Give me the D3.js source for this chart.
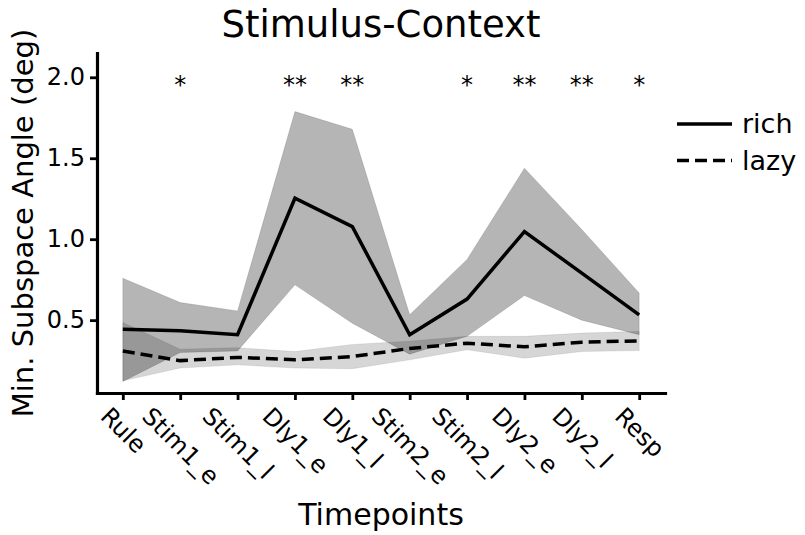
<!DOCTYPE html>
<html>
<head>
<meta charset="utf-8">
<script src="https://cdn.jsdelivr.net/npm/d3@7"></script>
<style>
  body { margin: 0; background: #fff; }
  text { font-family: 'DejaVu Sans', sans-serif; fill: #000; }
</style>
</head>
<body>
<div id="app"></div>
<script>
'use strict'

const timepoints = ['Rule', 'Stim1_e', 'Stim1_l', 'Dly1_e', 'Dly1_l', 'Stim2_e', 'Stim2_l', 'Dly2_e', 'Dly2_l', 'Resp']

const richMean  = [0.444, 0.434, 0.41, 1.253, 1.078, 0.41, 0.63, 1.047, 0.79, 0.533]
const richUpper = [0.759, 0.609, 0.557, 1.788, 1.679, 0.533, 0.875, 1.438, 1.06, 0.667]
const richLower = [0.121, 0.30, 0.31, 0.718, 0.481, 0.29, 0.40, 0.652, 0.50, 0.41]

const lazyMean  = [0.31, 0.25, 0.27, 0.255, 0.275, 0.325, 0.358, 0.335, 0.364, 0.372]
const lazyUpper = [0.485, 0.32, 0.33, 0.306, 0.35, 0.37, 0.40, 0.40, 0.42, 0.43]
const lazyLower = [0.125, 0.204, 0.224, 0.204, 0.20, 0.255, 0.317, 0.265, 0.306, 0.312]

const stars = ['', '*', '', '**', '**', '', '*', '**', '**', '*']
const starLevel = 2.0

const yTicks = [0.5, 1.0, 1.5, 2.0]
const legendItems = ['rich', 'lazy']

const W = 805
const H = 535
const plot = { left: 97, right: 665, top: 53, bottom: 393 }
const tickFont = 24
const lineW = 3.5

const svg = d3.select('#app').append('svg')
  .attr('width', W)
  .attr('height', H)
  .style('background-color', '#fff')

/*
 * Scales
 */
const xScale = d3.scalePoint()
  .domain(timepoints)
  .range([plot.left, plot.right])
  .padding(0.45)

const yScale = d3.scaleLinear()
  .domain([0.05, 2.15])
  .range([plot.bottom, plot.top])

const idx = timepoints.map((d, i) => i)

const band = (lo, hi) => d3.area()
  .x(i => xScale(timepoints[i]))
  .y0(i => yScale(lo[i]))
  .y1(i => yScale(hi[i]))

const line = vals => d3.line()
  .x(i => xScale(timepoints[i]))
  .y(i => yScale(vals[i]))

/*
 * Shaded bands (rich darker, lazy lighter)
 */
svg.append('path')
  .datum(idx)
  .attr('d', band(richLower, richUpper))
  .style('fill', '#000')
  .style('fill-opacity', 0.29)
  .style('stroke', '#000')
  .style('stroke-opacity', 0.12)
  .style('stroke-width', 1)

svg.append('path')
  .datum(idx)
  .attr('d', band(lazyLower, lazyUpper))
  .style('fill', '#000')
  .style('fill-opacity', 0.16)
  .style('stroke', '#000')
  .style('stroke-opacity', 0.08)
  .style('stroke-width', 1)

/*
 * Mean lines
 */
svg.append('path')
  .datum(idx)
  .attr('d', line(richMean))
  .style('fill', 'none')
  .style('stroke', '#000')
  .style('stroke-width', lineW)

svg.append('path')
  .datum(idx)
  .attr('d', line(lazyMean))
  .style('fill', 'none')
  .style('stroke', '#000')
  .style('stroke-width', lineW)
  .style('stroke-dasharray', '12,6')

/*
 * Significance stars
 */
svg.selectAll('.star')
  .data(idx.filter(i => stars[i]))
  .enter()
  .append('text')
  .attr('class', 'star')
  .attr('x', i => xScale(timepoints[i]))
  .attr('y', yScale(starLevel) + 16)
  .attr('text-anchor', 'middle')
  .style('font-size', '24px')
  .style('fill', '#000')
  .text(i => stars[i])

/*
 * Axes
 */
const xAxis = svg.append('g')
  .attr('transform', `translate(0, ${plot.bottom})`)
  .call(d3.axisBottom(xScale).tickSize(7).tickSizeOuter(0))

const yAxis = svg.append('g')
  .attr('transform', `translate(${plot.left}, 0)`)
  .call(d3.axisLeft(yScale)
    .tickValues(yTicks)
    .tickFormat(d3.format('.1f'))
    .tickSize(7)
    .tickSizeOuter(0)
    .tickPadding(5))

svg.selectAll('.domain')
  .style('stroke', '#000')
  .style('stroke-width', 3.2)
  .style('stroke-linecap', 'square')

svg.selectAll('.tick line')
  .style('stroke', '#000')
  .style('stroke-width', 2.8)

svg.selectAll('.tick text')
  .attr('fill', '#000')
  .style('font-family', 'DejaVu Sans')
  .style('font-size', tickFont + 'px')

// rotated x labels, bounding box centred under the tick
xAxis.selectAll('.tick text')
  .attr('y', null)
  .attr('dy', null)
  .attr('text-anchor', 'middle')
  .attr('dominant-baseline', 'central')
  .attr('transform', function () {
    const len = this.getComputedTextLength()
    const half = (len + tickFont * 0.95) * Math.SQRT1_2 / 2
    return `translate(0, ${404 - plot.bottom + half}) rotate(45)`
  })

/*
 * Titles
 */
svg.append('text')
  .attr('x', (plot.left + plot.right) / 2)
  .attr('y', 37)
  .attr('text-anchor', 'middle')
  .style('font-size', '37px')
  .text('Stimulus-Context')

svg.append('text')
  .attr('x', (plot.left + plot.right) / 2)
  .attr('y', 525)
  .attr('text-anchor', 'middle')
  .style('font-size', '30px')
  .text('Timepoints')

svg.append('text')
  .attr('transform', `translate(33, ${(plot.top + plot.bottom) / 2}) rotate(-90)`)
  .attr('text-anchor', 'middle')
  .style('font-size', '29px')
  .text('Min. Subspace Angle (deg)')

/*
 * Legend
 */
const legend = svg.append('g')
  .attr('transform', 'translate(677, 124)')

legendItems.forEach((name, i) => {
  const g = legend.append('g').attr('transform', `translate(0, ${i * 36.5})`)
  g.append('line')
    .attr('x1', 0)
    .attr('x2', 55)
    .style('stroke', '#000')
    .style('stroke-width', lineW)
    .style('stroke-dasharray', i === 1 ? '12,6' : null)
  g.append('text')
    .attr('x', 65)
    .attr('y', 9)
    .style('font-size', '27px')
    .text(name)
})
</script>
</body>
</html>
